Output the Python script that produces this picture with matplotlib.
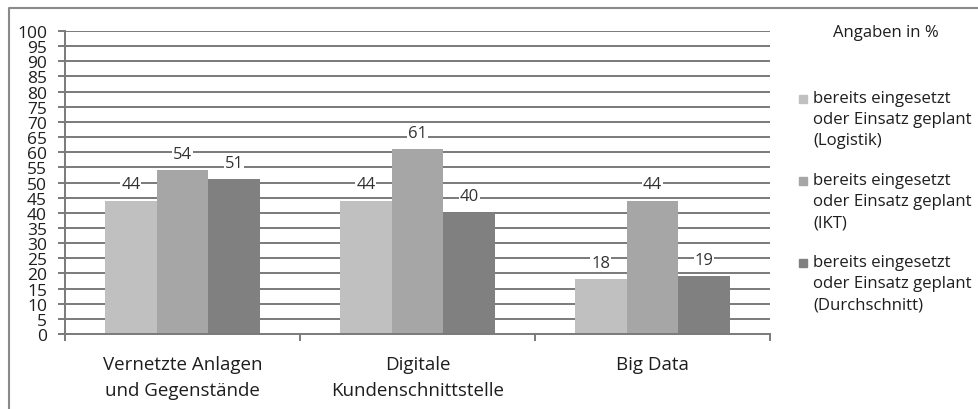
import numpy as np
import matplotlib
matplotlib.use("Agg")
import matplotlib.pyplot as plt
from matplotlib.patches import Rectangle
from matplotlib.lines import Line2D

plt.rcParams['font.family'] = ['Open Sans', 'DejaVu Sans']

# Digitalisierungs-Technologien, Anteil der Unternehmen in %
categories = ["Vernetzte Anlagen\nund Gegenstände", "Digitale\nKundenschnittstelle", "Big Data"]
logistik = [44, 44, 18]
ikt = [54, 61, 44]
durchschnitt = [51, 40, 19]
series_names = [
    "bereits eingesetzt\noder Einsatz geplant\n(Logistik)",
    "bereits eingesetzt\noder Einsatz geplant\n(IKT)",
    "bereits eingesetzt\noder Einsatz geplant\n(Durchschnitt)",
]
colors = ["#c0c0c0", "#a6a6a6", "#808080"]
yticks = list(range(0, 101, 5))

fig = plt.figure(figsize=(9.79, 4.10), dpi=100)
ax = fig.add_axes([65/979, 75/410, 705/979, 303/410])

x = np.arange(len(categories))
w = 0.22
grid_col = "#7a7a7a"
text_col = "#1e1e1e"

for yv in yticks[1:]:
    ax.axhline(yv, color=grid_col, lw=1.4, zorder=0)

for i, (vals, col) in enumerate(zip([logistik, ikt, durchschnitt], colors)):
    bars = ax.bar(x + (i - 1) * w, vals, width=w, color=col, zorder=2)
    for b, v in zip(bars, vals):
        ax.annotate(str(v), (b.get_x() + b.get_width() / 2, v),
                    xytext=(0, 6), textcoords="offset points",
                    ha="center", va="bottom", fontsize=12, color="#333333",
                    bbox=dict(boxstyle="square,pad=0.05", fc="white", ec="none"),
                    zorder=3)

ax.set_xlim(-0.5, 2.5)
ax.set_ylim(0, 100)
ax.set_yticks(yticks)
ax.set_yticklabels([str(t) for t in yticks], fontsize=12.5, color=text_col)
ax.tick_params(axis="y", length=5, width=1.4, color=grid_col, pad=8)

ax.set_xticks(x)
ax.set_xticklabels(categories, fontsize=13.5, color=text_col, linespacing=1.6)
ax.set_xticks([-0.5, 0.5, 1.5, 2.5], minor=True)
ax.tick_params(axis="x", which="major", length=0, pad=15)
ax.tick_params(axis="x", which="minor", length=5, width=1.4, color=grid_col)

for side in ["top", "right"]:
    ax.spines[side].set_visible(False)
for side in ["left", "bottom"]:
    ax.spines[side].set_color(grid_col)
    ax.spines[side].set_linewidth(1.4)

# legend on the right, marker next to the first line of each entry
fig.text(886/979, 1 - 33/410, "Angaben in %", ha="center", va="center",
         fontsize=12, color=text_col)
for i, (name, col) in enumerate(zip(series_names, colors)):
    ytop = 100 + i * 82
    fig.patches.append(Rectangle((799/979, 1 - (ytop + 4)/410), 8/979, 8/410,
                                 transform=fig.transFigure, color=col))
    fig.text(813/979, 1 - (ytop - 9)/410, name, ha="left", va="top",
             fontsize=12.1, color=text_col, linespacing=1.42)

# outer frame
fig.lines.append(Line2D([9/979, 9/979, 1], [0, 1 - 9/410, 1 - 9/410],
                        transform=fig.transFigure, color="#8a8a8a", lw=1.5))

fig.savefig("out.png", dpi=100)
